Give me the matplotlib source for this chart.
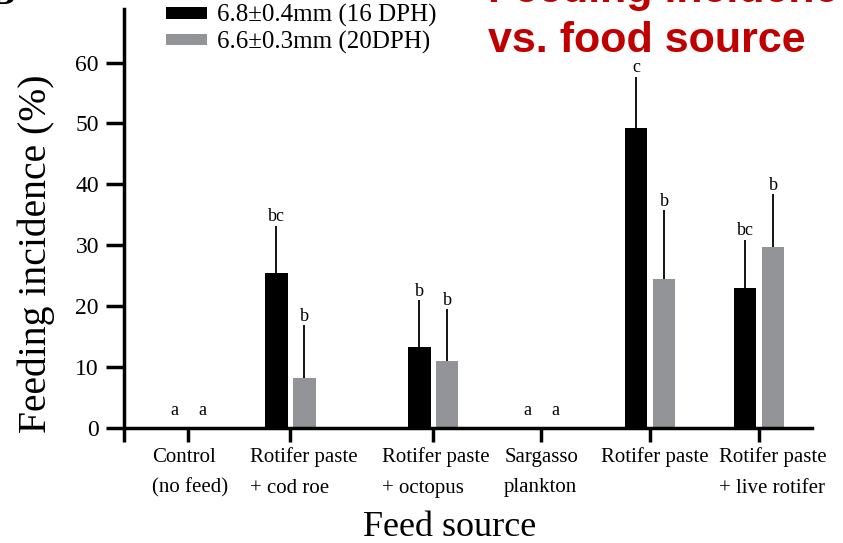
import numpy as np
import matplotlib
matplotlib.use("Agg")
import matplotlib.pyplot as plt

plt.rcParams['font.family'] = ['Liberation Serif', 'DejaVu Serif']

# data
labels = ["Control\n(no feed)", "Rotifer paste\n+ cod roe", "Rotifer paste\n+ octopus",
          "Sargasso\nplankton", "Rotifer paste", "Rotifer paste\n+ live rotifer"]
black_vals = [0, 25.4, 13.2, 0, 49.2, 23.0]
black_err = [0, 7.8, 7.7, 0, 8.5, 7.9]
gray_vals = [0, 8.2, 10.9, 0, 24.4, 29.6]
gray_err = [0, 8.7, 8.6, 0, 11.4, 8.8]
black_letters = ["a", "bc", "b", "a", "c", "bc"]
gray_letters = ["a", "b", "b", "a", "b", "b"]
legend_labels = ["6.8\u00b10.4mm (16 DPH)", "6.6\u00b10.3mm (20DPH)"]

# layout (group spacing in the original is uneven)
pos = np.array([0, 0.94, 2.25, 3.24, 4.24, 5.24])
label_shift = np.array([0.02, 0.12, 0.02, 0.0, 0.04, 0.13])
off = 0.128
w = 0.206
gray_c = '#929497'

fig = plt.figure(figsize=(8.43, 5.43), dpi=100)
ax = fig.add_axes([124/843, 115.5/543, 688/843, 418.5/543])

b1 = ax.bar(pos - off, black_vals, w, color='black', zorder=2, label=legend_labels[0])
b2 = ax.bar(pos + off, gray_vals, w, color=gray_c, zorder=2, label=legend_labels[1])
ax.errorbar(pos - off, black_vals, yerr=[np.zeros(6), black_err], fmt='none',
            ecolor='black', elinewidth=1.3, capsize=0, zorder=1)
ax.errorbar(pos + off, gray_vals, yerr=[np.zeros(6), gray_err], fmt='none',
            ecolor='black', elinewidth=1.3, capsize=0, zorder=1)

for i in range(6):
    for x, v, e, t in [(pos[i] - off, black_vals[i], black_err[i], black_letters[i]),
                       (pos[i] + off, gray_vals[i], gray_err[i], gray_letters[i])]:
        top = v + e
        dy = 3 if top > 0 else 9
        ax.annotate(t, (x, top), xytext=(0, dy), textcoords='offset points',
                    ha='center', va='baseline', fontsize=13)

ax.set_xlim(-0.587, 5.725)
ax.set_ylim(0, 68.8)
ax.set_yticks(range(0, 61, 10))
ax.tick_params(axis='y', length=13, width=2.5, pad=5, labelsize=17)
ax.set_xticks([-0.587] + list(pos))
ax.set_xticklabels([''] * 7)
ax.tick_params(axis='x', length=10, width=2.5)

for s in ['top', 'right']:
    ax.spines[s].set_visible(False)
for s in ['left', 'bottom']:
    ax.spines[s].set_linewidth(2.5)
    ax.spines[s].set_zorder(5)

for i in range(6):
    ax.text(pos[i] + label_shift[i], -0.048, labels[i], transform=ax.get_xaxis_transform(),
            ha='center', va='top', multialignment='left', fontsize=15, linespacing=1.8)

ax.set_ylabel("Feeding incidence (%)", fontsize=28.5)
ax.yaxis.set_label_coords(-0.101, 0.415)
ax.set_xlabel("Feed source", fontsize=26)
ax.xaxis.set_label_coords(0.473, -0.2)

fig.legend(handles=[b1, b2], loc='upper left', bbox_to_anchor=(166/843, 1 - 4/543),
           frameon=False, fontsize=18, borderpad=0, borderaxespad=0,
           handlelength=1.64, handleheight=0.35, handletextpad=0.4, labelspacing=0.15)

fig.text(488/843, 1 - 2/543, "Feeding incidence", color='#C00000', fontsize=31,
         fontweight='bold', family='Liberation Sans', va='baseline', ha='left')
fig.text(488/843, 1 - 52/543, "vs. food source", color='#C00000', fontsize=31,
         fontweight='bold', family='Liberation Sans', va='baseline', ha='left')
fig.text(-10/843, 1 - 4/543, "B", fontsize=26, fontweight='bold', va='baseline', ha='left')

plt.savefig("out.png", dpi=100)
